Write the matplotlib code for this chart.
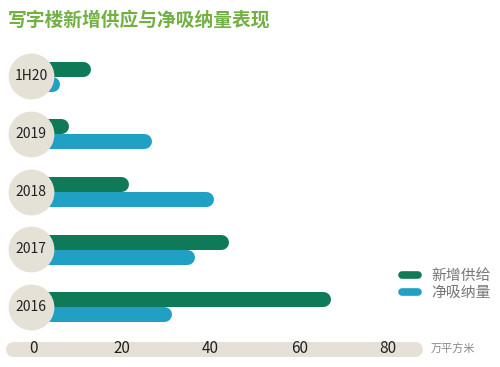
import matplotlib.pyplot as plt
from matplotlib.lines import Line2D

plt.rcParams['font.family'] = ['Noto Sans CJK SC', 'DejaVu Sans']

# data (万平方米)
periods = ['2016', '2017', '2018', '2019', '1H20']
new_supply = [67.0, 44.0, 21.4, 8.1, 12.9]
net_absorption = [31.3, 36.3, 40.6, 26.8, 5.9]
xticks = [0, 20, 40, 60, 80]

green = '#0e7a58'
blue = '#20a0c2'
beige = '#e6e1d6'

fig = plt.figure(figsize=(5, 3.67), dpi=100)
ax = fig.add_axes([0, 0, 1, 1])
ax.set_xlim(-7.44, 105.2)
ax.set_ylim(-1.04, 5.32)
ax.axis('off')

px = 500 / (105.2 + 7.44)   # pixels per data unit
cap = 7.5 / px               # half of bar thickness, round cap overhang

for i, (s, a) in enumerate(zip(new_supply, net_absorption)):
    ax.plot([0, s - cap], [i + 0.13, i + 0.13], color=green, lw=10.8,
            solid_capstyle='round', zorder=2)
    ax.plot([0, a - cap], [i - 0.13, i - 0.13], color=blue, lw=10.8,
            solid_capstyle='round', zorder=2)

ax.scatter([-0.45] * len(periods), range(len(periods)), s=33 ** 2,
           color=beige, zorder=3, linewidths=0)
for i, p in enumerate(periods):
    ax.text(-0.45, i, p, ha='center', va='center', fontsize=10,
            color='#222222', zorder=4)

# axis strip
ax.plot([-6.3 + cap, 87.7 - cap], [-0.72, -0.72], color=beige, lw=10.8,
        solid_capstyle='round', zorder=2)
for t in xticks:
    ax.text(t, -0.72, str(t), ha='center', va='center', fontsize=11,
            color='#222222', zorder=4)
ax.text(89.6, -0.72, '万平方米', ha='left', va='center', fontsize=8,
        color='#888888')

fig.text(8 / 500, 1 - 20 / 367, '写字楼新增供应与净吸纳量表现', fontsize=13.5,
         fontweight='bold', color='#72b043', va='center', ha='left')

handles = [Line2D([], [], color=green, lw=5.5, solid_capstyle='round'),
           Line2D([], [], color=blue, lw=5.5, solid_capstyle='round')]
leg = ax.legend(handles, ['新增供给', '净吸纳量'], loc='upper left',
                bbox_to_anchor=(402 / 500, 1 - 269 / 367), frameon=False,
                borderpad=0, borderaxespad=0, handlelength=1.05,
                handletextpad=0.9, labelspacing=0.2, fontsize=10.7,
                labelcolor='#777777')

fig.savefig('out.png', dpi=100)
